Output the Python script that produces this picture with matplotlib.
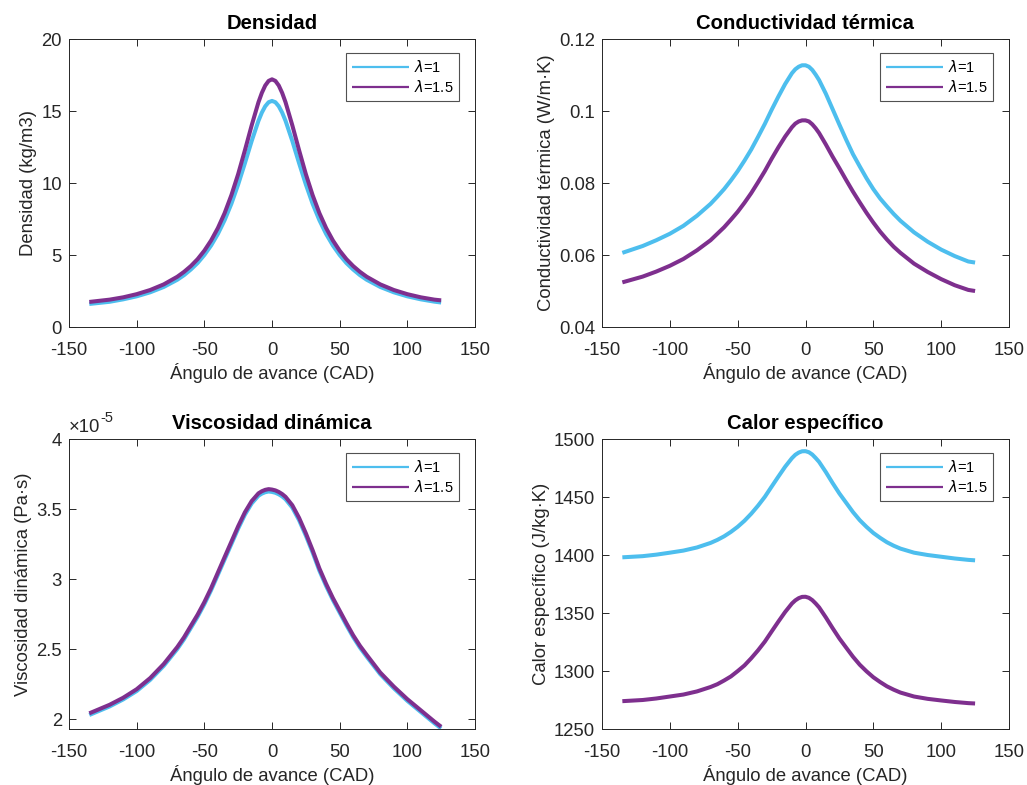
import matplotlib
matplotlib.use("Agg")
import matplotlib.pyplot as plt
from matplotlib.ticker import FuncFormatter

plt.rcParams['font.family'] = ['Liberation Sans', 'DejaVu Sans']
plt.rcParams['axes.unicode_minus'] = False
plt.rcParams['mathtext.fontset'] = 'dejavusans'

# ---------------- data ----------------
angle = [-135, -120, -110, -100, -90, -80, -70, -65, -60, -55, -50, -45, -40, -35, -30, -25, -20, -15, -10,
         -7.5, -5, -2.5, 0, 2.5, 5, 7.5,
         10, 15, 20, 25, 30, 35, 40, 45, 50, 55, 60, 65, 70, 80, 90, 100, 110, 120, 125]

dens_l1 = [1.60, 1.75, 1.92, 2.13, 2.41, 2.78, 3.28, 3.60, 3.99, 4.44, 5.00, 5.66, 6.46, 7.42, 8.56, 9.90, 11.38, 12.92, 14.32,
           14.89, 15.33, 15.61, 15.70, 15.61, 15.33, 14.89,
           14.32, 12.92, 11.38, 9.90, 8.56, 7.42, 6.46, 5.66, 5.00, 4.44, 3.99, 3.60, 3.28, 2.78, 2.41, 2.13, 1.92, 1.76, 1.70]
dens_l15 = [1.74, 1.90, 2.06, 2.28, 2.57, 2.96, 3.49, 3.83, 4.23, 4.71, 5.30, 6.01, 6.87, 7.91, 9.16, 10.62, 12.28, 14.01, 15.61,
            16.26, 16.77, 17.09, 17.20, 17.09, 16.77, 16.26,
            15.61, 14.01, 12.28, 10.62, 9.16, 7.91, 6.87, 6.01, 5.30, 4.71, 4.23, 3.83, 3.49, 2.96, 2.57, 2.28, 2.06, 1.90, 1.85]

cond_l1 = [0.0606, 0.0625, 0.0641, 0.0659, 0.0681, 0.0709, 0.0742, 0.0762, 0.0783, 0.0807, 0.0833, 0.0862, 0.0893, 0.0928,
           0.0964, 0.1003, 0.1040, 0.1075, 0.1105,
           0.1116, 0.1123, 0.1127, 0.1127, 0.1123, 0.1114, 0.1101,
           0.1086, 0.1048, 0.1005, 0.0962, 0.0920, 0.0880, 0.0846, 0.0813, 0.0783, 0.0757, 0.0735, 0.0714, 0.0695,
           0.0663, 0.0637, 0.0615, 0.0597, 0.0582, 0.0579]
cond_l15 = [0.0524, 0.0540, 0.0554, 0.0570, 0.0589, 0.0613, 0.0641, 0.0659, 0.0677, 0.0698, 0.0720, 0.0745, 0.0772, 0.0802,
            0.0833, 0.0867, 0.0899, 0.0929, 0.0955,
            0.0965, 0.0971, 0.0974, 0.0974, 0.0971, 0.0963, 0.0952,
            0.0939, 0.0907, 0.0873, 0.0841, 0.0808, 0.0776, 0.0746, 0.0717, 0.0690, 0.0665, 0.0643, 0.0623, 0.0606,
            0.0576, 0.0553, 0.0533, 0.0516, 0.0503, 0.0500]

visc_l1 = [2.029e-5, 2.09e-5, 2.14e-5, 2.20e-5, 2.28e-5, 2.38e-5, 2.50e-5, 2.57e-5, 2.65e-5, 2.73e-5, 2.82e-5, 2.92e-5,
           3.03e-5, 3.14e-5, 3.25e-5, 3.36e-5, 3.46e-5, 3.54e-5, 3.595e-5,
           3.61e-5, 3.62e-5, 3.625e-5, 3.622e-5, 3.616e-5, 3.605e-5, 3.59e-5,
           3.57e-5, 3.51e-5, 3.42e-5, 3.31e-5, 3.19e-5, 3.06e-5, 2.95e-5, 2.85e-5, 2.76e-5, 2.67e-5, 2.585e-5, 2.51e-5,
           2.445e-5, 2.32e-5, 2.22e-5, 2.13e-5, 2.05e-5, 1.97e-5, 1.933e-5]
visc_l15 = [2.041e-5, 2.102e-5, 2.152e-5, 2.213e-5, 2.293e-5, 2.393e-5, 2.514e-5, 2.584e-5, 2.665e-5, 2.745e-5, 2.835e-5,
            2.935e-5, 3.046e-5, 3.157e-5, 3.267e-5, 3.377e-5, 3.477e-5, 3.557e-5, 3.612e-5,
            3.627e-5, 3.637e-5, 3.642e-5, 3.639e-5, 3.633e-5, 3.622e-5, 3.607e-5,
            3.587e-5, 3.527e-5, 3.437e-5, 3.327e-5, 3.206e-5, 3.076e-5, 2.965e-5, 2.864e-5, 2.774e-5, 2.684e-5, 2.598e-5,
            2.523e-5, 2.458e-5, 2.332e-5, 2.232e-5, 2.142e-5, 2.062e-5, 1.982e-5, 1.945e-5]

cp_l1 = [1398.0, 1399.0, 1400.3, 1402.0, 1403.8, 1406.5, 1410.4, 1413.0, 1416.1, 1419.9, 1424.3, 1429.5, 1435.6, 1442.5,
         1450.1, 1458.9, 1467.6, 1476.1, 1483.5,
         1486.4, 1488.3, 1489.4, 1489.5, 1488.6, 1486.6, 1483.6,
         1480.3, 1471.5, 1462.0, 1453.0, 1445.0, 1437.0, 1430.0, 1424.2, 1419.0, 1414.8, 1411.0, 1408.0, 1405.5,
         1402.0, 1400.0, 1398.5, 1397.0, 1395.8, 1395.4]
cp_l15 = [1274.0, 1275.0, 1276.3, 1278.0, 1279.7, 1282.4, 1286.2, 1288.6, 1291.8, 1295.3, 1299.9, 1304.8, 1311.0, 1317.8,
          1325.3, 1334.0, 1342.6, 1350.9, 1358.2,
          1360.9, 1362.8, 1363.9, 1364.0, 1363.1, 1361.1, 1358.2,
          1354.9, 1346.2, 1336.9, 1328.0, 1320.1, 1312.3, 1305.4, 1299.7, 1294.6, 1290.5, 1286.8, 1283.9, 1281.4,
          1278.0, 1276.0, 1274.6, 1273.3, 1272.3, 1272.0]

labels = ['$\\lambda$=1', '$\\lambda$=1.5']
titles = ['Densidad', 'Conductividad térmica', 'Viscosidad dinámica', 'Calor específico']
ylabels = ['Densidad (kg/m3)', 'Conductividad térmica (W/m·K)', 'Viscosidad dinámica (Pa·s)', 'Calor específico (J/kg·K)']
xlabel = 'Ángulo de avance (CAD)'
xticks = [-150, -100, -50, 0, 50, 100, 150]

# ---------------- style ----------------
c1 = '#4DBEEE'
c2 = '#7E2F8E'
axc = '#262626'
fs = 13.3
W, H = 1027, 785

fig = plt.figure(figsize=(W / 100, H / 100), dpi=100)

def pos(l, t, r, b):
    return [l / W, 1 - b / H, (r - l) / W, (b - t) / H]

rects = [pos(69, 39, 475, 327), pos(602, 39, 1009, 327), pos(69, 439, 475, 729), pos(602, 439, 1009, 729)]
series = [(dens_l1, dens_l15), (cond_l1, cond_l15), (visc_l1, visc_l15), (cp_l1, cp_l15)]
ylims = [(0, 20), (0.04, 0.12), (1.929e-5, 4e-5), (1250, 1500)]
yticks = [[0, 5, 10, 15, 20], [0.04, 0.06, 0.08, 0.10, 0.12], [2e-5, 2.5e-5, 3e-5, 3.5e-5, 4e-5],
          [1250, 1300, 1350, 1400, 1450, 1500]]

for i in range(4):
    ax = fig.add_axes(rects[i])
    a, b = series[i]
    ax.plot(angle, a, color=c1, lw=2.9, label=labels[0], solid_capstyle='butt', solid_joinstyle='round')
    ax.plot(angle, b, color=c2, lw=2.9, label=labels[1], solid_capstyle='butt', solid_joinstyle='round')
    ax.set_xlim(-150, 150)
    ax.set_ylim(*ylims[i])
    ax.set_xticks(xticks)
    ax.set_yticks(yticks[i])
    if i == 1:
        ax.yaxis.set_major_formatter(FuncFormatter(lambda v, p: '%g' % round(v, 4)))
    if i == 2:
        ax.yaxis.set_major_formatter(FuncFormatter(lambda v, p: '%g' % round(v / 1e-5, 4)))
        t = ax.text(0.0, 1.012, '×10', transform=ax.transAxes, ha='left', va='bottom',
                    fontsize=13.3, color=axc)
        ax.annotate('-5', xy=(1.0, 0.62), xycoords=t, ha='left', va='bottom',
                    fontsize=10.5, color=axc)
    ax.tick_params(direction='in', length=5, width=0.7, top=True, right=True, colors=axc,
                   labelsize=fs)
    ax.tick_params(axis='x', pad=10.5)
    ax.tick_params(axis='y', pad=5)
    for sp in ax.spines.values():
        sp.set_color(axc)
        sp.set_linewidth(0.7)
    ax.set_title(titles[i], fontsize=14.6, fontweight='bold', pad=7)
    ax.set_xlabel(xlabel, fontsize=fs, color=axc, labelpad=3)
    ax.set_ylabel(ylabels[i], fontsize=fs, color=axc, labelpad=3)
    axw = rects[i][2] * W
    axh = rects[i][3] * H
    leg = ax.legend(loc='upper right', bbox_to_anchor=(1 - 16 / axw, 1 - 14 / axh), borderaxespad=0,
                    fontsize=10.5, frameon=True, fancybox=False, handlelength=3.9, borderpad=0.4,
                    labelspacing=0.3, handletextpad=0.35)
    for ln in leg.get_lines():
        ln.set_linewidth(1.6)
    leg.get_frame().set_edgecolor(axc)
    leg.get_frame().set_linewidth(0.8)

fig.savefig('out.png', dpi=100)
